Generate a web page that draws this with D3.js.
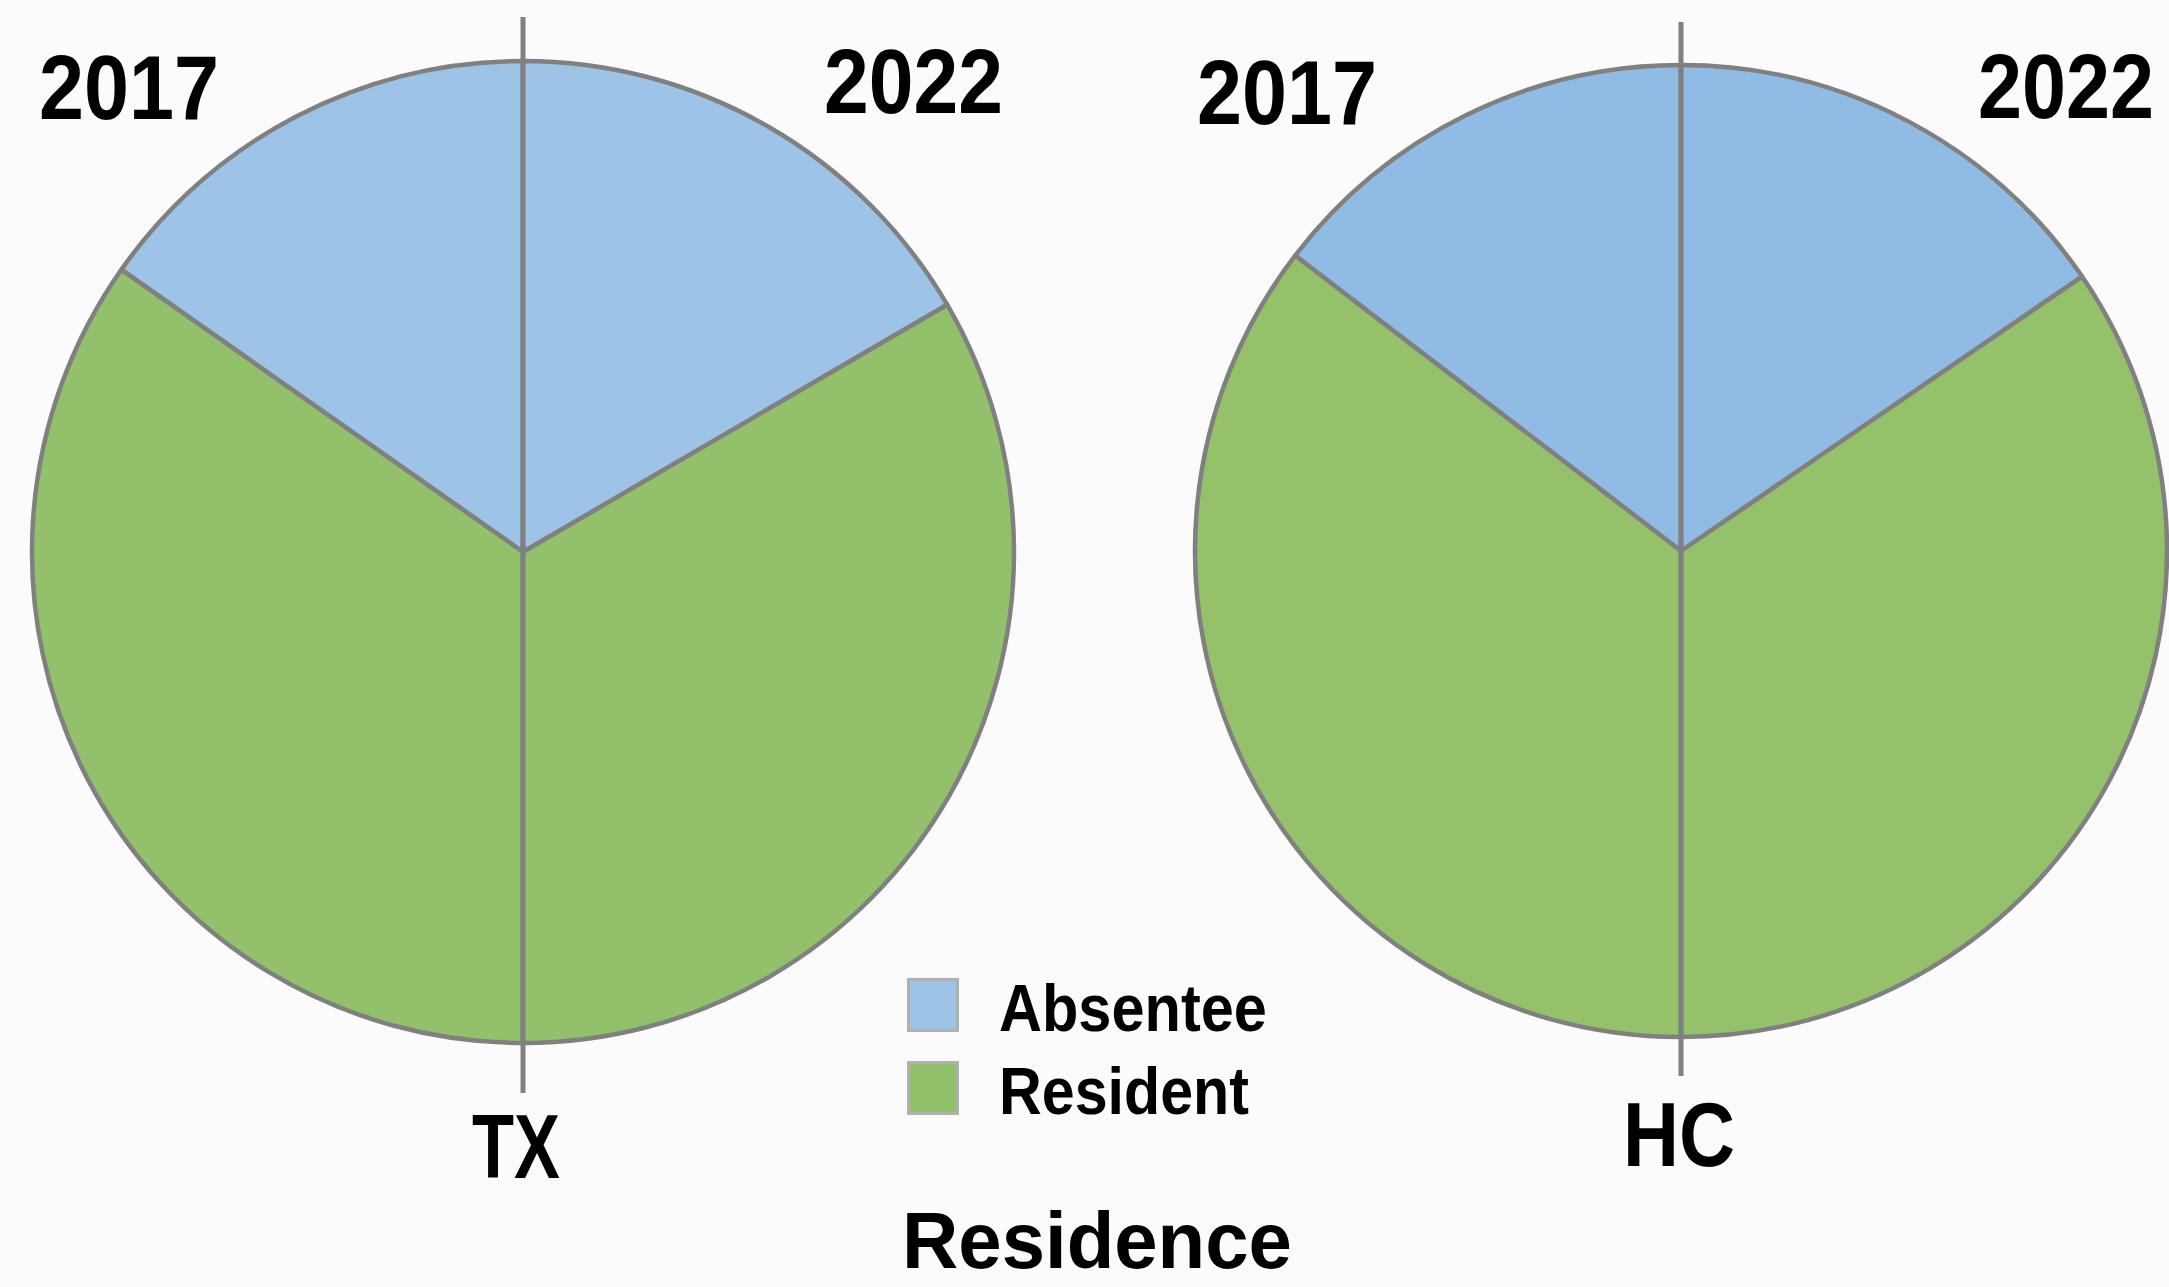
<!DOCTYPE html>
<html>
<head>
<meta charset="utf-8">
<script src="https://cdn.jsdelivr.net/npm/d3@7"></script>
<style>
  html, body { margin: 0; padding: 0; background: #fbfbfb; }
  svg { display: block; }
  text { font-family: "Liberation Sans Narrow", "Liberation Sans", Arial, sans-serif; font-weight: bold; fill: #000; }
</style>
</head>
<body>
<svg id="chart" width="2169" height="1287"></svg>
<script>
// ---- data ----
const regions = ["TX", "HC"];
const years = ["2017", "2022"];
const categories = ["Absentee", "Resident"];
// percent shares per region, per year
const absentee = { TX: [30.5, 33.2], HC: [29.2, 30.9] };
const resident = { TX: [69.5, 66.8], HC: [70.8, 69.1] };
const legendTitle = "Residence";

// ---- layout / style ----
const W = 2169, H = 1287;
const layout = {
  TX: { cx: 523, cy: 552, r: 491, lineTop: 17, lineBottom: 1093,
        label: {x: 472, y: 1178, w: 88},
        yearPos: [{x: 39, y: 119, w: 180}, {x: 824, y: 113, w: 179}] },
  HC: { cx: 1681, cy: 551, r: 486, lineTop: 22, lineBottom: 1076,
        label: {x: 1623, y: 1166, w: 112},
        yearPos: [{x: 1197, y: 124, w: 180}, {x: 1978, y: 118, w: 176}] }
};
const colors = {
  TX: d3.scaleOrdinal().domain(categories).range(["#9DC3E6", "#93C06A"]),
  HC: d3.scaleOrdinal().domain(categories).range(["#8FBBE5", "#94C16A"])
};
const strokeColor = "#808080";

const svg = d3.select("#chart");
svg.append("rect").attr("width", W).attr("height", H).attr("fill", "#fbfbfb");

// condensed label: measure natural width, then squeeze horizontally to target width
function label(x, y, size, w, str) {
  const t = svg.append("text").attr("x", 0).attr("y", 0)
    .attr("font-size", size).text(str);
  const nat = t.node().getComputedTextLength();
  const sx = w / nat;
  t.attr("transform", `translate(${x},${y}) scale(${sx},1)`);
  return t;
}

regions.forEach(reg => {
  const L = layout[reg];
  const g = svg.append("g").attr("transform", `translate(${L.cx},${L.cy})`);
  const arc = d3.arc().innerRadius(0).outerRadius(L.r);
  years.forEach((yr, i) => {
    const vals = categories.map(c => ({ cat: c, value: c === "Absentee" ? absentee[reg][i] : resident[reg][i] }));
    const pie = d3.pie().sort(null).value(d => d.value)
      .startAngle(0).endAngle(i === 0 ? -Math.PI : Math.PI);
    g.selectAll(null).data(pie(vals)).enter().append("path")
      .attr("d", arc)
      .attr("fill", d => colors[reg](d.data.cat))
      .attr("stroke", strokeColor)
      .attr("stroke-width", 4.5)
      .attr("stroke-linejoin", "round");
    const p = L.yearPos[i];
    label(p.x, p.y, 90, p.w, yr);
  });
  // divider line between years
  svg.append("line")
    .attr("x1", L.cx).attr("x2", L.cx)
    .attr("y1", L.lineTop).attr("y2", L.lineBottom)
    .attr("stroke", strokeColor).attr("stroke-width", 5);
  label(L.label.x, L.label.y, 90, L.label.w, reg);
});

// legend
const legendWidths = [268, 250];
categories.forEach((c, i) => {
  const y0 = 978 + i * 83;
  svg.append("rect").attr("x", 908.5).attr("y", y0 + 1.5).attr("width", 49).attr("height", 51)
    .attr("fill", colors.TX(c)).attr("stroke", "#b0b0b0").attr("stroke-width", 3);
  label(999, y0 + 53, 66, legendWidths[i], c);
});
label(902, 1268, 80, 390, legendTitle);
</script>
</body>
</html>
